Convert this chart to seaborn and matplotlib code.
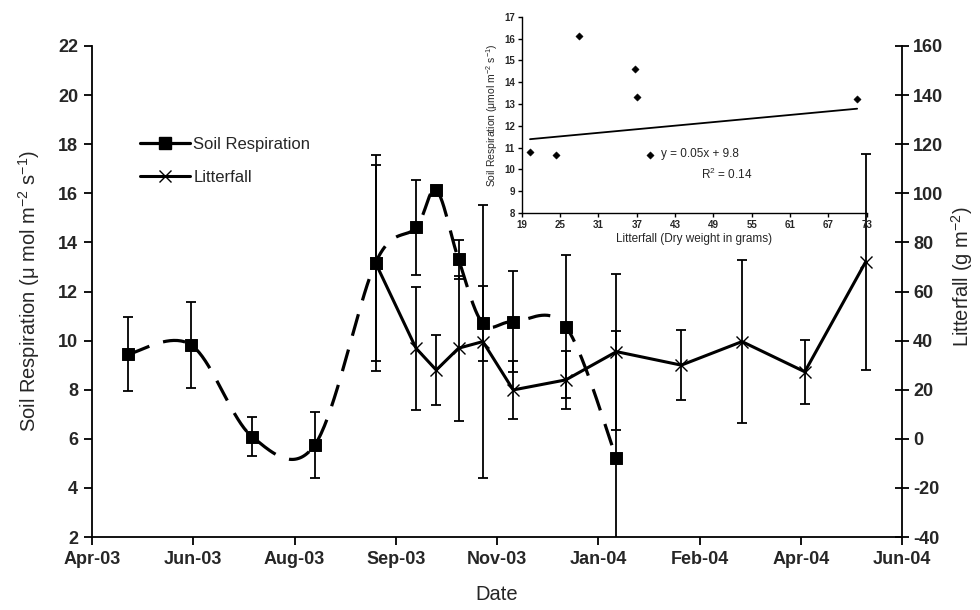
import numpy as np
import pandas as pd
import matplotlib
matplotlib.use("Agg")
import matplotlib.pyplot as plt
import matplotlib.dates as mdates
from matplotlib.lines import Line2D
import seaborn as sns

# ---------------- data ----------------
tick_dates = pd.to_datetime(["2003-04-28", "2003-06-17", "2003-08-06", "2003-09-25", "2003-11-14",
                             "2004-01-03", "2004-02-22", "2004-04-12", "2004-06-01"])
tick_labels = ["Apr-03", "Jun-03", "Aug-03", "Sep-03", "Nov-03", "Jan-04", "Feb-04", "Apr-04", "Jun-04"]

soil_dates = pd.to_datetime(["2003-05-16", "2003-06-16", "2003-07-16", "2003-08-16", "2003-09-15",
                             "2003-10-05", "2003-10-15", "2003-10-26", "2003-11-07", "2003-11-22",
                             "2003-12-18", "2004-01-12"])
soil_resp = [9.45, 9.82, 6.09, 5.75, 13.17, 14.61, 16.13, 13.31, 10.70, 10.77, 10.57, 5.20]
soil_err = [1.5, 1.75, 0.8, 1.35, 4.4, 1.93, 0.0, 0.8, 1.53, 2.06, 2.9, 5.2]

litter_dates = pd.to_datetime(["2003-09-15", "2003-10-05", "2003-10-15", "2003-10-26", "2003-11-07",
                               "2003-11-22", "2003-12-18", "2004-01-12", "2004-02-13", "2004-03-14",
                               "2004-04-14", "2004-05-14"])
litterfall = [71.7, 36.9, 28.0, 36.9, 39.6, 19.9, 24.0, 35.5, 30.0, 39.6, 27.3, 72.0]
litter_err = [40, 25, 14.3, 29.5, 55.5, 11.9, 11.9, 31.8, 14.3, 33.1, 13, 44]

inset_litter = [20.3, 24.4, 28.0, 36.7, 37.0, 39.1, 71.5]
inset_soil = [10.79, 10.64, 16.13, 14.61, 13.31, 10.67, 13.23]
trend_slope = 0.0273
trend_intercept = 10.83
trend_text = "y = 0.05x + 9.8"
r2_text = "R$^2$ = 0.14"
inset_xticks = [19, 25, 31, 37, 43, 49, 55, 61, 67, 73]
inset_yticks = [8, 9, 10, 11, 12, 13, 14, 15, 16, 17]

# ---------------- style ----------------
sns.set_theme(style="white")
plt.rcParams["font.family"] = ["Liberation Sans", "DejaVu Sans"]
plt.rcParams["mathtext.fontset"] = "custom"
plt.rcParams["mathtext.rm"] = "Liberation Sans"
plt.rcParams["mathtext.it"] = "Liberation Sans:italic"
plt.rcParams["mathtext.bf"] = "Liberation Sans:bold"
plt.rcParams["axes.unicode_minus"] = False

fig = plt.figure(figsize=(9.8, 6.1), dpi=100)
ax = fig.add_axes([92 / 980, 1 - 537 / 610, 810 / 980, 491 / 610])
ax2 = ax.twinx()

x0 = mdates.date2num(tick_dates[0])
x1 = mdates.date2num(tick_dates[-1])
ylo, yhi = 2, 22

# smoothed (Bezier) curve through the soil respiration points, computed in screen-like space
sx = mdates.date2num(soil_dates)
sy = np.array(soil_resp, dtype=float)
P = np.column_stack([(sx - x0) / (x1 - x0) * 810.0, (sy - ylo) / (yhi - ylo) * 491.0])
curve = []
n = len(P)
t = np.linspace(0, 1, 40)
for i in range(n - 1):
    p0 = P[i - 1] if i > 0 else P[i]
    p1 = P[i]
    p2 = P[i + 1]
    p3 = P[i + 2] if i + 2 < n else P[i + 1]
    c1 = p1 + (p2 - p0) / 6.0
    c2 = p2 - (p3 - p1) / 6.0
    seg = ((1 - t) ** 3)[:, None] * p1 + (3 * (1 - t) ** 2 * t)[:, None] * c1 + \
          (3 * (1 - t) * t ** 2)[:, None] * c2 + (t ** 3)[:, None] * p2
    curve.append(seg if i == 0 else seg[1:])
curve = np.vstack(curve)
cx = curve[:, 0] / 810.0 * (x1 - x0) + x0
cy = curve[:, 1] / 491.0 * (yhi - ylo) + ylo

ax.plot(cx, cy, color="black", lw=2.3, dashes=(7, 4.5), zorder=3)
ax.errorbar(soil_dates, soil_resp, yerr=soil_err, fmt="none", ecolor="black",
            elinewidth=1.3, capsize=3.5, capthick=1.3, zorder=2)
sns.scatterplot(x=soil_dates, y=soil_resp, ax=ax, marker="s", s=70, color="black",
                edgecolor="black", zorder=4, legend=False)

ax2.errorbar(litter_dates, litterfall, yerr=litter_err, fmt="none", ecolor="black",
             elinewidth=1.3, capsize=3.5, capthick=1.3, zorder=2)
sns.lineplot(x=litter_dates, y=litterfall, ax=ax2, color="black", lw=2.2, marker="x",
             markersize=9, markeredgewidth=1.0, markeredgecolor="black", zorder=3, legend=False)

# axes limits & ticks
ax.set_xlim(tick_dates[0], tick_dates[-1])
ax.set_ylim(ylo, yhi)
ax.set_yticks(np.arange(2, 23, 2))
ax.set_xticks(tick_dates)
ax.set_xticklabels(tick_labels)
ax2.set_ylim(-40, 160)
ax2.set_yticks(np.arange(-40, 161, 20))

for a in (ax, ax2):
    for s in a.spines.values():
        s.set_color("black")
        s.set_linewidth(1.3)
    a.spines["top"].set_visible(False)
ax.spines["right"].set_visible(False)
ax2.spines["left"].set_visible(False)
ax2.spines["bottom"].set_visible(False)

ax.tick_params(axis="both", which="major", direction="out", length=6, width=1.3, color="black",
               labelsize=13, bottom=True, left=True, pad=4)
ax2.tick_params(axis="y", direction="inout", length=10, width=1.3, color="black", labelsize=13,
                right=True, pad=3)
for lab in ax.get_xticklabels() + ax.get_yticklabels() + ax2.get_yticklabels():
    lab.set_fontweight("bold")

ax.set_ylabel(r"Soil Respiration ($\mathregular{\mu}$ mol m$^{-2}$ s$^{-1}$)", fontsize=14.5)
ax.yaxis.set_label_coords(-0.062, 0.5)
ax.set_xlabel("Date", fontsize=14.5)
ax.xaxis.set_label_coords(0.5, -0.098)
ax2.set_ylabel(r"Litterfall (g m$^{-2}$)", fontsize=14.5, rotation=90)
ax2.yaxis.set_label_coords(1.058, 0.53)
ax.grid(False)
ax2.grid(False)

# legend
h1 = Line2D([], [], color="black", lw=2.3, marker="s", markersize=8)
h2 = Line2D([], [], color="black", lw=2.2, marker="x", markersize=9, markeredgewidth=1.0)
fig.legend([h1, h2], ["Soil Respiration", "Litterfall"], loc="upper left",
           bbox_to_anchor=(125 / 980, 1 - 122 / 610), frameon=False, fontsize=12,
           handlelength=3.0, handletextpad=0.2, labelspacing=1.1, numpoints=1)

# inset
axi = fig.add_axes([521.7 / 980, 1 - 213 / 610, 345 / 980, 196.3 / 610])
axi.patch.set_alpha(0)
sns.scatterplot(x=inset_litter, y=inset_soil, ax=axi, marker="D", s=14, color="black",
                edgecolor="black", legend=False, zorder=3)
tx = np.array([min(inset_litter), max(inset_litter)])
axi.plot(tx, trend_intercept + trend_slope * tx, color="black", lw=1.3)
axi.set_xlim(inset_xticks[0], inset_xticks[-1])
axi.set_ylim(inset_yticks[0], inset_yticks[-1])
axi.set_xticks(inset_xticks)
axi.set_yticks(inset_yticks)
axi.spines["top"].set_visible(False)
axi.spines["right"].set_visible(False)
for s in ("left", "bottom"):
    axi.spines[s].set_color("black")
    axi.spines[s].set_linewidth(1.0)
axi.tick_params(axis="both", direction="out", length=3, width=1.0, color="black",
                labelsize=7, pad=2, bottom=True, left=True)
for lab in axi.get_xticklabels() + axi.get_yticklabels():
    lab.set_fontweight("bold")
axi.set_xlabel("Litterfall (Dry weight in grams)", fontsize=8.5, labelpad=2)
axi.set_ylabel(r"Soil Respiration ($\mathregular{\mu}$mol m$^{-2}$ s$^{-1}$)", fontsize=7.5, labelpad=3)
axi.text(0.517, 0.30, trend_text, transform=axi.transAxes, ha="center", va="center", fontsize=8.5)
axi.text(0.595, 0.195, r2_text, transform=axi.transAxes, ha="center", va="center", fontsize=8.5)
axi.grid(False)

fig.savefig("out.png", dpi=100)
